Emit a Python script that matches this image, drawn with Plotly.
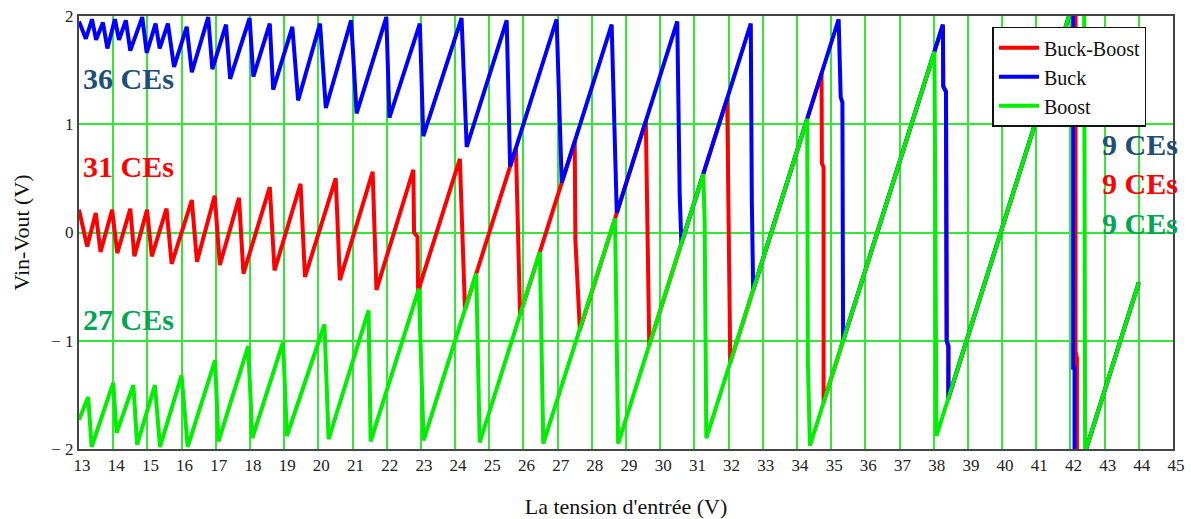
import plotly.graph_objects as go

# ---------------- data ----------------
x_ticks = list(range(13, 46))
y_ticks = [-2, -1, 0, 1, 2]
y_tick_labels = ["\u2212 2", "\u2212 1", "0", "1", "2"]

series_names = ["Buck-Boost", "Buck", "Boost"]
series_colors = ["#ff0000", "#0000ff", "#00ee00"]

# Buck-Boost (red) polyline vertices
bb_x = [13.00, 13.24, 13.49, 13.63, 13.97, 14.12, 14.50, 14.62, 14.99, 15.13,
        15.56, 15.71, 16.30, 16.45, 16.97, 17.12, 17.68, 17.81, 18.58, 18.72,
        19.48, 19.61, 20.51, 20.63, 21.59, 21.70, 22.78, 22.80, 22.90, 22.92,
        24.14, 24.18, 24.25, 24.29, 25.78, 25.82, 25.85, 25.90, 27.50, 27.52,
        27.60, 27.65, 29.58, 29.61, 29.67, 29.68, 31.96, 32.00, 32.05, 34.72,
        34.73, 34.78, 34.78, 38.27, 38.28, 38.36, 38.38, 38.43, 38.43, 42.15,
        42.15, 42.19, 42.19, 44.00]
bb_y = [0.21, -0.13, 0.18, -0.18, 0.21, -0.19, 0.22, -0.22, 0.21, -0.22,
        0.22, -0.29, 0.30, -0.27, 0.34, -0.30, 0.32, -0.38, 0.42, -0.35,
        0.45, -0.41, 0.50, -0.44, 0.56, -0.53, 0.58, 0.00, -0.04, -0.54,
        0.68, 0.30, -0.37, -0.71, 0.78, 0.39, -0.10, -0.76, 0.84, -0.07,
        -0.68, -0.90, 1.03, 0.52, -0.56, -1.04, 1.24, 0.20, -1.20, 1.47,
        0.64, 0.60, -1.57, 1.92, 1.35, 1.30, -1.00, -1.05, -1.53, 2.19,
        -1.10, -1.16, -2.27, -0.46]

# Buck (blue) polyline vertices
buck_x = [13.00, 13.20, 13.38, 13.50, 13.70, 13.83, 14.05, 14.17, 14.37, 14.50,
          14.85, 14.98, 15.24, 15.36, 15.60, 15.78, 16.15, 16.30, 16.78, 16.90,
          17.30, 17.42, 17.99, 18.10, 18.58, 18.68, 19.24, 19.41, 20.05, 20.22,
          20.96, 21.12, 21.99, 22.08, 22.97, 23.07, 24.19, 24.34, 25.51, 25.61,
          26.97, 27.12, 28.58, 28.73, 30.50, 30.57, 30.62, 32.65, 32.68, 32.72,
          35.22, 35.28, 35.33, 35.35, 38.27, 38.28, 38.36, 38.38, 38.43, 38.43,
          42.08, 42.08, 42.12, 42.12, 44.00]
buck_y = [1.95, 1.79, 1.97, 1.78, 1.94, 1.70, 1.97, 1.78, 1.96, 1.68,
          1.99, 1.66, 1.93, 1.70, 1.93, 1.53, 1.90, 1.48, 1.99, 1.51,
          1.92, 1.42, 1.98, 1.44, 1.93, 1.32, 1.90, 1.22, 1.93, 1.15,
          1.96, 1.10, 1.99, 1.06, 1.93, 0.89, 1.98, 0.79, 1.96, 0.61,
          1.97, 0.46, 1.92, 0.18, 1.95, 0.36, -0.10, 1.93, 0.30, -0.53,
          1.97, 1.25, 1.20, -1.00, 1.92, 1.35, 1.30, -1.00, -1.05, -1.53,
          2.12, -1.25, -1.25, -2.34, -0.46]

# Boost (green) polyline vertices
boost_x = [13.00, 13.27, 13.37, 14.00, 14.10, 14.59, 14.70, 15.22, 15.37, 16.00,
           16.18, 16.98, 17.08, 17.95, 18.07, 18.97, 19.08, 20.18, 20.30, 21.47,
           21.53, 22.94, 23.08, 24.62, 24.72, 26.48, 26.58, 28.68, 28.77, 31.26,
           31.30, 31.35, 34.30, 34.32, 34.38, 38.02, 38.04, 38.08, 42.40, 42.43,
           44.00]
boost_y = [-1.73, -1.52, -1.98, -1.39, -1.85, -1.41, -1.96, -1.41, -1.98, -1.32,
           -1.98, -1.18, -1.93, -1.05, -1.90, -1.01, -1.88, -0.85, -1.91, -0.72,
           -1.93, -0.52, -1.92, -0.38, -1.94, -0.18, -1.95, 0.13, -1.95, 0.54,
           0.12, -1.90, 1.05, -1.20, -1.97, 1.67, 0.70, -1.88, 2.44, -2.03,
           -0.46]

labels = ["36 CEs", "31 CEs", "27 CEs", "9 CEs", "9 CEs", "9 CEs"]
label_x = [13.07, 13.07, 13.07, 42.86, 42.86, 42.86]
label_y = [1.42, 0.61, -0.80, 0.81, 0.45, 0.08]
label_colors = ["#1f4e79", "#ff0000", "#00a651", "#1f4e79", "#ff0000", "#00a651"]

FONT = "Liberation Serif, Times New Roman, serif"

fig = go.Figure()
for name, xs, ys, col in zip(series_names, [bb_x, buck_x, boost_x],
                             [bb_y, buck_y, boost_y], series_colors):
    fig.add_trace(go.Scatter(x=xs, y=ys, mode="lines", name=name,
                             line=dict(color=col, width=4)))

for t, lx, ly, c in zip(labels, label_x, label_y, label_colors):
    fig.add_annotation(x=lx, y=ly, xref="x", yref="y", text="<b>%s</b>" % t,
                       showarrow=False, xanchor="left", yanchor="middle",
                       font=dict(family=FONT, size=30, color=c))

grid_col = "#33e833"
fig.update_layout(
    width=1191, height=519,
    margin=dict(l=79, r=18, t=16, b=70),
    paper_bgcolor="white", plot_bgcolor="white",
    font=dict(family=FONT, size=17, color="#222222"),
    showlegend=True,
    legend=dict(x=0.835, y=0.975, xanchor="left", yanchor="top",
                bgcolor="white", bordercolor="#111111", borderwidth=1.5,
                font=dict(family=FONT, size=20, color="#111111"),
                itemwidth=40, tracegroupgap=0),
)
fig.update_xaxes(range=[13, 45], tickvals=x_ticks, ticks="",
                 showgrid=True, gridcolor=grid_col, gridwidth=1.5,
                 zeroline=False, showline=True, mirror=True,
                 linecolor="#444444", linewidth=2,
                 tickfont=dict(family=FONT, size=17, color="#222222"),
                 ticklabelshift=3,
                 title=dict(text="La tension d'entr\u00e9e (V)", standoff=27,
                            font=dict(family=FONT, size=22, color="#111111")),
                 automargin=False)
fig.update_yaxes(range=[-2, 2], tickvals=y_ticks, ticktext=y_tick_labels, ticks="",
                 showgrid=True, gridcolor=grid_col, gridwidth=1.5,
                 zeroline=False, showline=True, mirror=True,
                 linecolor="#444444", linewidth=2,
                 tickfont=dict(family=FONT, size=17, color="#222222"),
                 title=dict(text="Vin-Vout (V)", standoff=16,
                            font=dict(family=FONT, size=22, color="#111111")),
                 automargin=False)

fig.write_html("out.html", config={"displayModeBar": False},
               post_script="document.body.style.margin='0';")
